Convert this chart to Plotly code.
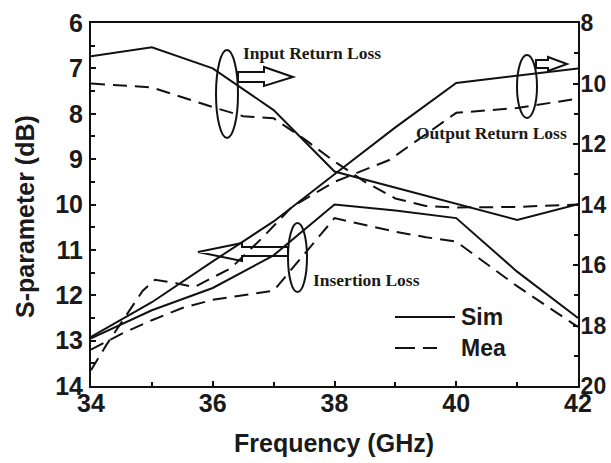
import plotly.graph_objects as go

# ---------------- data ----------------
freq_sim = [34, 35, 36, 37, 38, 39, 40, 41, 42]
# Return losses are read on the right axis (8..20)
input_rl_sim = [9.10, 8.80, 9.50, 10.88, 12.91, 13.45, 13.97, 14.51, 13.99]
input_rl_mea_freq = [34, 35, 36, 36.5, 37, 37.5, 38, 38.5, 39, 39.5, 40, 41, 42]
input_rl_mea = [10.0, 10.13, 10.78, 11.08, 11.15, 11.83, 12.58, 13.25, 13.8, 14.05, 14.1, 14.08, 14.0]
output_rl_sim = [18.38, 17.23, 15.88, 14.56, 13.0, 11.45, 9.98, 9.73, 9.5]
output_rl_mea_freq = [34, 34.25, 34.6, 34.85, 35.05, 35.4, 35.7, 36.3, 36.8, 37.3, 38, 38.9, 39.5, 40, 41, 42]
output_rl_mea = [19.48, 18.65, 17.6, 16.85, 16.49, 16.6, 16.73, 16.1, 15.13, 14.08, 13.25, 12.53, 11.68, 10.97, 10.81, 10.5]
# Insertion loss is read on the left axis (6..14)
il_sim = [12.95, 12.33, 11.84, 11.12, 10.0, 10.13, 10.3, 11.48, 12.5]
il_mea_freq = [34, 34.5, 35, 35.5, 36, 36.5, 37, 38, 38.5, 39, 39.5, 40, 41, 42]
il_mea = [13.2, 12.85, 12.55, 12.28, 12.1, 12.0, 11.9, 10.3, 10.45, 10.6, 10.72, 10.82, 11.8, 12.7]

x_ticks = [34, 36, 38, 40, 42]
left_ticks = [6, 7, 8, 9, 10, 11, 12, 13, 14]
right_ticks = [8, 10, 12, 14, 16, 18, 20]

# ---------------- styling ----------------
W, H = 611, 463
PL, PR, PT, PB = 91, 578, 23, 386          # plot area in window pixels
L, R, T, B = PL, W - PR, PT, H - PB
INK = "#111111"
SOLID = dict(color=INK, width=2)
DASHED = dict(color=INK, width=2, dash="14px,8px")
SANS = "Liberation Sans, Arial, sans-serif"
SERIF = "Liberation Serif, Times New Roman, serif"

fig = go.Figure()
fig.add_trace(go.Scatter(x=freq_sim, y=input_rl_sim, mode="lines", line=SOLID, yaxis="y2", showlegend=False))
fig.add_trace(go.Scatter(x=input_rl_mea_freq, y=input_rl_mea, mode="lines", line=DASHED, yaxis="y2", showlegend=False))
fig.add_trace(go.Scatter(x=freq_sim, y=output_rl_sim, mode="lines", line=SOLID, yaxis="y2", showlegend=False))
fig.add_trace(go.Scatter(x=output_rl_mea_freq, y=output_rl_mea, mode="lines", line=DASHED, yaxis="y2", showlegend=False))
fig.add_trace(go.Scatter(x=freq_sim, y=il_sim, mode="lines", line=SOLID, yaxis="y", showlegend=False))
fig.add_trace(go.Scatter(x=il_mea_freq, y=il_mea, mode="lines", line=DASHED, yaxis="y", showlegend=False))

PW, PH = PR - PL, PB - PT


def px(xp, yp):
    """window pixel position -> (freq, left-axis value) for decorations"""
    return 34 + (xp - PL) / PW * 8, 6 + (yp - PT) / PH * 8


def pp(xp, yp):
    """window pixel position -> paper coords"""
    return (xp - PL) / PW, 1 - (yp - PT) / PH


def path(points):
    s = ""
    for i, (a, b) in enumerate(points):
        xd, yd = px(a, b)
        s += ("M" if i == 0 else "L") + f"{xd:.4f},{yd:.4f} "
    return s + "Z"


shapes = []
# ellipses
for (x0, y0, x1, y1) in [(216, 50, 238, 138), (517, 55, 537, 118), (288, 223, 307, 292)]:
    a0, b0 = px(x0, y0)
    a1, b1 = px(x1, y1)
    shapes.append(dict(type="circle", xref="x", yref="y", x0=a0, x1=a1, y0=b0, y1=b1,
                       line=dict(color=INK, width=2)))
# hollow block arrows
arrows = [
    [(238, 72), (264, 72), (264, 67), (293, 77), (264, 86), (264, 82), (238, 82)],
    [(536, 60), (548, 60), (548, 57), (567, 64), (548, 71), (548, 68), (536, 68)],
    [(288, 247), (242, 247), (242, 243), (198, 252), (242, 261), (242, 256), (288, 256)],
]
for pts in arrows:
    shapes.append(dict(type="path", xref="x", yref="y", path=path(pts),
                       line=dict(color=INK, width=2)))

# manual legend samples
lx0, ly = pp(395, 317)
lx1, _ = pp(455, 317)
shapes.append(dict(type="line", xref="paper", yref="paper", x0=lx0, x1=lx1, y0=ly, y1=ly,
                   line=dict(color=INK, width=2)))
mx0, my = pp(395, 348)
mx1, _ = pp(437, 348)
shapes.append(dict(type="line", xref="paper", yref="paper", x0=mx0, x1=mx1, y0=my, y1=my,
                   line=dict(color=INK, width=2, dash="20px,8px")))

annotations = []


def label(text, xp, yp, size, family, anchor="left", angle=0):
    xa, ya = pp(xp, yp)
    annotations.append(dict(text=text, xref="paper", yref="paper", x=xa, y=ya, xanchor=anchor,
                            yanchor="middle", showarrow=False, textangle=angle,
                            font=dict(family=family, size=size, color="#1a1a1a", weight="bold")))


label("Input Return Loss", 241, 53, 17.5, SERIF)
label("Output Return Loss", 414, 133, 17.5, SERIF)
label("Insertion Loss", 311, 280, 17.5, SERIF)
label("Sim", 459, 317, 23, SANS)
label("Mea", 459, 348, 23, SANS)
# axis titles
label("Frequency (GHz)", 334, 443, 25, SANS, anchor="center")
label("S-parameter (dB)", 25, 217, 25, SANS, anchor="center", angle=-90)

tickfont = dict(family=SANS, size=25, color="#1a1a1a", weight="bold")
common = dict(ticks="inside", ticklen=5, tickwidth=1.5, tickcolor=INK, showline=True, linewidth=2,
              linecolor=INK, showgrid=False, zeroline=False, automargin=False)
fig.update_layout(
    width=W, height=H, autosize=False,
    margin=dict(l=L, r=R, t=T, b=B, pad=0, autoexpand=False),
    paper_bgcolor="white", plot_bgcolor="white",
    showlegend=False,
    xaxis=dict(range=[34, 42], tickvals=x_ticks, mirror=True, ticklabelstandoff=-6, tickfont=tickfont,
               minor=dict(tickvals=[35, 37, 39, 41], ticks="inside", ticklen=4, tickcolor=INK, showgrid=False),
               **common),
    yaxis=dict(range=[14, 6], tickvals=left_ticks, ticklabelstandoff=1, tickfont=tickfont,
               minor=dict(tickvals=[6.5, 7.5, 8.5, 9.5, 10.5, 11.5, 12.5, 13.5], ticks="inside",
                          ticklen=4, tickcolor=INK, showgrid=False),
               **common),
    yaxis2=dict(range=[20, 8], tickvals=right_ticks, overlaying="y", side="right", ticklabelstandoff=-4,
                tickfont=dict(tickfont, size=23),
                minor=dict(tickvals=[9, 11, 13, 15, 17, 19], ticks="inside", ticklen=4,
                           tickcolor=INK, showgrid=False),
                **common),
    shapes=shapes,
    annotations=annotations,
)

# remove the browser's default page margin so the 611x463 figure fills the window exactly
fig.write_html("out.html", config={"displayModeBar": False},
               post_script="document.body.style.margin='0px';"
                           "document.documentElement.style.overflow='hidden';")
